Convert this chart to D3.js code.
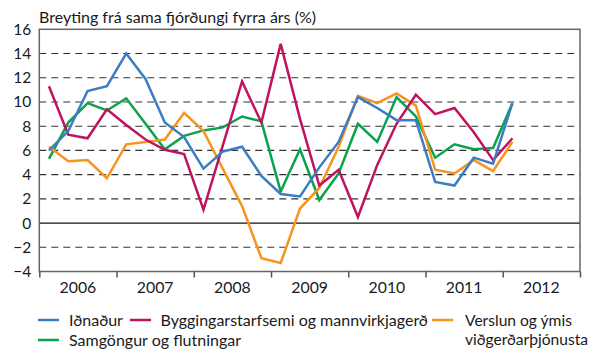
<!DOCTYPE html>
<html>
<head>
<meta charset="utf-8">
<script src="https://cdn.jsdelivr.net/npm/d3@7"></script>
<style>
  html, body { margin: 0; padding: 0; background: #fff; }
  svg { display: block; }
  text { font-family: Lato, "Open Sans", sans-serif; fill: #1a1a1a; }
</style>
</head>
<body>
<svg id="chart" width="595" height="349"></svg>
<script>
// Quarterly change from the same quarter a year earlier, 2006 Q1 – 2012 Q1
const years = [2006, 2007, 2008, 2009, 2010, 2011, 2012];
const yTicks = [-4, -2, 0, 2, 4, 6, 8, 10, 12, 14, 16];
const quarters = d3.range(25).map(i => ({ year: 2006 + Math.floor(i / 4), q: (i % 4) + 1 }));

const idnadur = [6.0, 7.6, 10.9, 11.3, 14.0, 11.9, 8.3, 7.1, 4.5, 5.9, 6.3, 3.9, 2.4, 2.2, 4.6, 6.7, 10.4, 9.5, 8.5, 8.5, 3.4, 3.1, 5.4, 4.9, 9.9];
const byggingar = [11.3, 7.3, 7.0, 9.4, 8.1, 6.9, 6.05, 5.7, 1.1, 6.4, 11.7, 8.3, 14.8, 8.6, 3.1, 4.4, 0.5, 4.8, 8.2, 10.6, 9.0, 9.5, 7.5, 5.2, 7.0];
const verslun = [6.3, 5.1, 5.2, 3.7, 6.5, 6.7, 6.9, 9.1, 7.6, 4.5, 1.4, -2.9, -3.3, 1.2, 2.9, 6.3, 10.5, 9.9, 10.7, 9.7, 4.4, 4.1, 5.2, 4.3, 6.7];
const samgongur = [5.3, 8.3, 9.9, 9.3, 10.3, 8.2, 6.1, 7.2, 7.65, 7.9, 8.8, 8.4, 2.6, 6.1, 1.9, 4.1, 8.2, 6.7, 10.4, 8.8, 5.4, 6.5, 6.1, 6.2, 9.9];

const seriesNames = ["Iðnaður", "Byggingarstarfsemi og mannvirkjagerð", "Verslun og ýmis viðgerðarþjónusta", "Samgöngur og flutningar"];
const seriesColors = ["#3b7dc4", "#c0135f", "#f7941e", "#0ba24d"];
const seriesValues = [idnadur, byggingar, verslun, samgongur];
// Painting order of the lines (last one on top)
const drawOrder = [3, 2, 1, 0];

const svg = d3.select("#chart");
const plotLeft = 39.3, plotRight = 580, plotTop = 29.3, plotBottom = 271.5;

const x = d3.scaleLinear().domain([2006, 2013]).range([plotLeft, plotRight]);
const y = d3.scaleLinear().domain([-4, 16]).range([plotBottom, plotTop]);
const qx = d => x(d.year + (d.q - 0.5) / 4);

// Dashed gridlines
svg.append("g")
  .selectAll("line")
  .data(yTicks.filter(v => v !== 0 && v !== -4 && v !== 16))
  .join("line")
  .attr("x1", plotLeft).attr("x2", plotRight)
  .attr("y1", d => y(d)).attr("y2", d => y(d))
  .attr("stroke", "#333")
  .attr("stroke-width", 1.1)
  .attr("stroke-dasharray", "7,5");

// Zero line
svg.append("line")
  .attr("x1", plotLeft).attr("x2", plotRight)
  .attr("y1", y(0)).attr("y2", y(0))
  .attr("stroke", "#111").attr("stroke-width", 1.2);

// Frame
svg.append("rect")
  .attr("x", plotLeft).attr("y", plotTop)
  .attr("width", plotRight - plotLeft).attr("height", plotBottom - plotTop)
  .attr("fill", "none").attr("stroke", "#666").attr("stroke-width", 1.5);

// Y axis labels
const yAxis = d3.axisLeft(y).tickValues(yTicks).tickSize(0).tickPadding(8);
svg.append("g")
  .attr("transform", `translate(${plotLeft},0)`)
  .call(yAxis)
  .call(g => g.select(".domain").remove())
  .call(g => g.selectAll("text")
    .attr("font-family", "Lato, sans-serif")
    .attr("font-size", 15.5)
    .attr("fill", "#1a1a1a"));

// X axis: ticks at year boundaries, labels centred in each year
const xAxis = d3.axisBottom(x).tickValues(d3.range(2006, 2014)).tickSize(6).tickFormat("");
svg.append("g")
  .attr("transform", `translate(0,${plotBottom})`)
  .call(xAxis)
  .call(g => g.select(".domain").remove())
  .call(g => g.selectAll("line").attr("stroke", "#555").attr("stroke-width", 1.5));

svg.append("g")
  .selectAll("text")
  .data(years)
  .join("text")
  .attr("x", d => x(d + 0.5))
  .attr("y", 292.5)
  .attr("text-anchor", "middle")
  .attr("font-size", 15.8)
  .text(d => d);

// Title
svg.append("text")
  .attr("x", 39)
  .attr("y", 23)
  .attr("font-size", 16)
  .text("Breyting frá sama fjórðungi fyrra árs (%)");

// Series lines
const line = d3.line().x((d, i) => qx(quarters[i])).y(d => y(d));
svg.append("g")
  .selectAll("path")
  .data(drawOrder.map(i => ({ v: seriesValues[i], c: seriesColors[i] })))
  .join("path")
  .attr("d", d => line(d.v))
  .attr("fill", "none")
  .attr("stroke", d => d.c)
  .attr("stroke-width", 2.5)
  .attr("stroke-linejoin", "miter");

// Legend
const legendItems = [
  { i: 0, x: 38, tx: 69, y: 320, lines: ["Iðnaður"] },
  { i: 1, x: 130, tx: 160.5, y: 320, lines: ["Byggingarstarfsemi og mannvirkjagerð"] },
  { i: 2, x: 432, tx: 465, y: 320, lines: ["Verslun og ýmis", "viðgerðarþjónusta"] },
  { i: 3, x: 38, tx: 69, y: 340, lines: ["Samgöngur og flutningar"] }
];
const lg = svg.append("g").selectAll("g").data(legendItems).join("g");
lg.append("line")
  .attr("x1", d => d.x).attr("x2", d => d.x + 21)
  .attr("y1", d => d.y).attr("y2", d => d.y)
  .attr("stroke", d => seriesColors[d.i])
  .attr("stroke-width", 2.5);
lg.each(function (d) {
  const t = d3.select(this).append("text")
    .attr("x", d.tx)
    .attr("y", d.y + 5.5)
    .attr("font-size", d.i === 2 ? 15.6 : 16);
  d.lines.forEach((s, k) => {
    t.append("tspan").attr("x", d.tx).attr("dy", k === 0 ? 0 : 19.5).text(s);
  });
});
</script>
</body>
</html>
